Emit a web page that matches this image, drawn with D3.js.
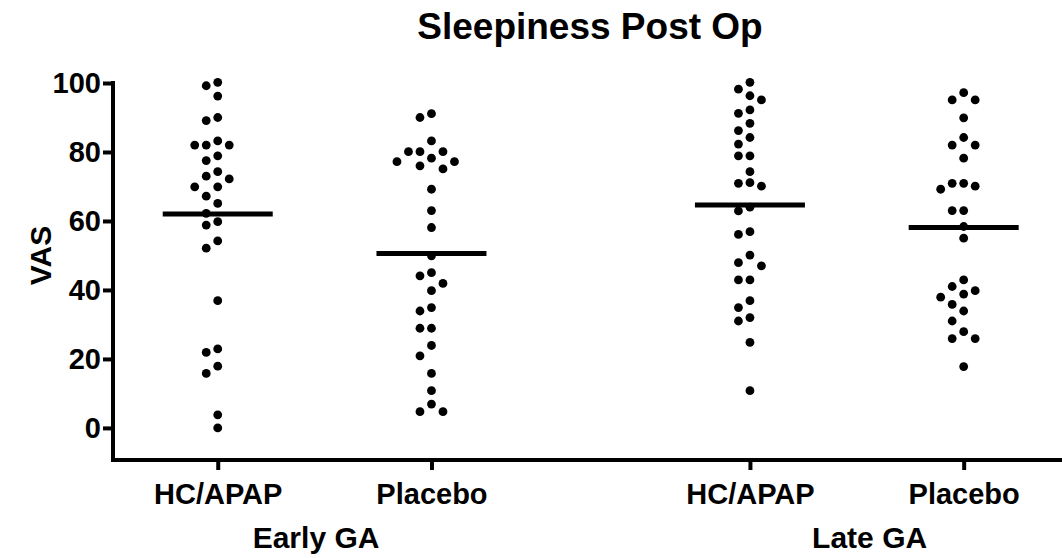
<!DOCTYPE html>
<html>
<head>
<meta charset="utf-8">
<script src="https://cdn.jsdelivr.net/npm/d3@7"></script>
<style>
  html, body { margin: 0; padding: 0; background: #fff; }
  svg { display: block; }
  text { font-family: "Liberation Sans", Arial, sans-serif; font-weight: bold; fill: #000; }
</style>
</head>
<body>
<svg id="chart" width="1062" height="558"></svg>
<script>
// Sleepiness VAS scores after surgery, by anaesthesia timing and treatment
const title = "Sleepiness Post Op";
const yLabel = "VAS";
const groupNames = ["Early GA", "Late GA"];
const treatmentNames = ["HC/APAP", "Placebo"];
const yTicks = [0, 20, 40, 60, 80, 100];

const earlyHcApap = [100.2, 99.2, 96.2, 90.0, 89.1, 83.2, 82.0, 82.0, 82.0, 78.9, 77.5,
  74.3, 73.0, 72.2, 69.9, 69.9, 67.2, 65.1, 62.2, 59.8, 58.8, 54.2, 52.1, 36.9,
  22.9, 21.9, 17.9, 15.8, 3.8, 0.0];
const earlyPlacebo = [91.1, 90.0, 83.2, 80.1, 80.1, 80.1, 78.2, 77.2, 77.2, 76.0, 75.1,
  69.2, 63.0, 58.1, 49.9, 45.0, 44.1, 41.9, 39.8, 34.9, 33.9, 28.9, 28.9, 23.9,
  20.9, 15.8, 10.8, 6.9, 4.7, 4.7];
const lateHcApap = [100.2, 98.2, 96.3, 95.1, 92.2, 91.2, 88.3, 86.2, 84.2, 82.3, 78.9,
  78.9, 74.3, 71.1, 70.9, 70.1, 64.0, 62.9, 56.9, 56.1, 50.1, 47.9, 47.0, 42.9,
  42.9, 36.9, 34.9, 32.0, 31.0, 24.8, 10.8];
const latePlacebo = [97.2, 95.1, 95.1, 89.9, 84.2, 82.0, 82.0, 78.2, 70.9, 70.9, 70.1,
  69.2, 63.0, 63.0, 58.4, 55.0, 42.9, 41.0, 39.8, 38.8, 37.9, 35.8, 33.9, 31.0,
  27.9, 25.9, 25.9, 17.8];
// Horizontal summary line drawn across each column
const centerLines = [62.0, 50.6, 64.6, 58.1];

const seriesList = [
  { group: 0, treatment: 0, values: earlyHcApap },
  { group: 0, treatment: 1, values: earlyPlacebo },
  { group: 1, treatment: 0, values: lateHcApap },
  { group: 1, treatment: 1, values: latePlacebo }
];

const W = 1062, H = 558;
const margin = { left: 113, top: 83, bottom: 98 };
const groupGap = 0.49;              // extra spacing between the two GA groups
const groupLabelAt = [0.46, 3.05];  // x positions (axis units) of the group captions
const dotR = 4.4, colStep = 11.5;   // dot size and scatter column spacing
const minGap = 11;                  // vertical clearance within one scatter column
const lineHalf = 55;

const svg = d3.select("#chart");

const slot = s => s.group * (2 + groupGap) + s.treatment;
const x = d3.scaleLinear().domain([-0.49, 3.95]).range([margin.left, W]);
const y = d3.scaleLinear().domain([-9.3, 100]).range([H - margin.bottom, margin.top]);

// y axis
const yAxis = svg.append("g")
  .attr("transform", `translate(${margin.left},0)`)
  .call(d3.axisLeft(y).tickValues(yTicks).tickSize(10).tickSizeOuter(0).tickPadding(2));
yAxis.select(".domain").attr("stroke", "#000").attr("stroke-width", 4)
  .attr("d", `M0,${y(100) - 2}V${y.range()[0] + 2}`);
yAxis.selectAll(".tick line").attr("stroke", "#000").attr("stroke-width", 4);
yAxis.selectAll(".tick text").style("font-size", "29px").style("font-family", null);

// x axis
const xAxis = svg.append("g")
  .attr("transform", `translate(0,${y.range()[0]})`)
  .call(d3.axisBottom(x)
    .tickValues(seriesList.map(slot))
    .tickFormat((d, i) => treatmentNames[seriesList[i].treatment])
    .tickSize(10).tickSizeOuter(0).tickPadding(13));
xAxis.select(".domain").attr("stroke", "#000").attr("stroke-width", 4)
  .attr("d", `M${margin.left - 2},0H${W}`);
xAxis.selectAll(".tick line").attr("stroke", "#000").attr("stroke-width", 4);
xAxis.selectAll(".tick text").style("font-size", "29px").style("font-family", null);

// group captions under the treatment labels
svg.selectAll(".group-label")
  .data(groupNames)
  .join("text")
  .attr("class", "group-label")
  .attr("x", (d, g) => x(groupLabelAt[g]))
  .attr("y", 548)
  .attr("text-anchor", "middle")
  .style("font-size", "30px")
  .text(d => d);

// y axis title
svg.append("text")
  .attr("transform", `translate(51,${(y(100) + y(0)) / 2}) rotate(-90)`)
  .attr("text-anchor", "middle")
  .style("font-size", "30px")
  .text(yLabel);

// chart title
svg.append("text")
  .attr("x", 590).attr("y", 39)
  .attr("text-anchor", "middle")
  .style("font-size", "37px")
  .text(title);

// scatter columns: each point takes the nearest free column to the centre
function swarm(values) {
  const sorted = values.map(v => ({ v, py: y(v) })).sort((a, b) => b.v - a.v);
  const placed = [];
  const order = [0, -1, 1, -2, 2, -3, 3, -4, 4];
  sorted.forEach(p => {
    for (const c of order) {
      const clash = placed.some(q => q.col === c && Math.abs(q.py - p.py) < minGap);
      if (!clash) { p.col = c; break; }
    }
    placed.push(p);
  });
  return placed;
}

seriesList.forEach((s, i) => {
  const cx = x(slot(s));
  const g = svg.append("g");
  g.selectAll("circle")
    .data(swarm(s.values))
    .join("circle")
    .attr("cx", d => cx + d.col * colStep)
    .attr("cy", d => d.py)
    .attr("r", dotR)
    .attr("fill", "#000");
  g.append("line")
    .attr("x1", cx - lineHalf).attr("x2", cx + lineHalf)
    .attr("y1", y(centerLines[i])).attr("y2", y(centerLines[i]))
    .attr("stroke", "#000").attr("stroke-width", 5);
});
</script>
</body>
</html>
